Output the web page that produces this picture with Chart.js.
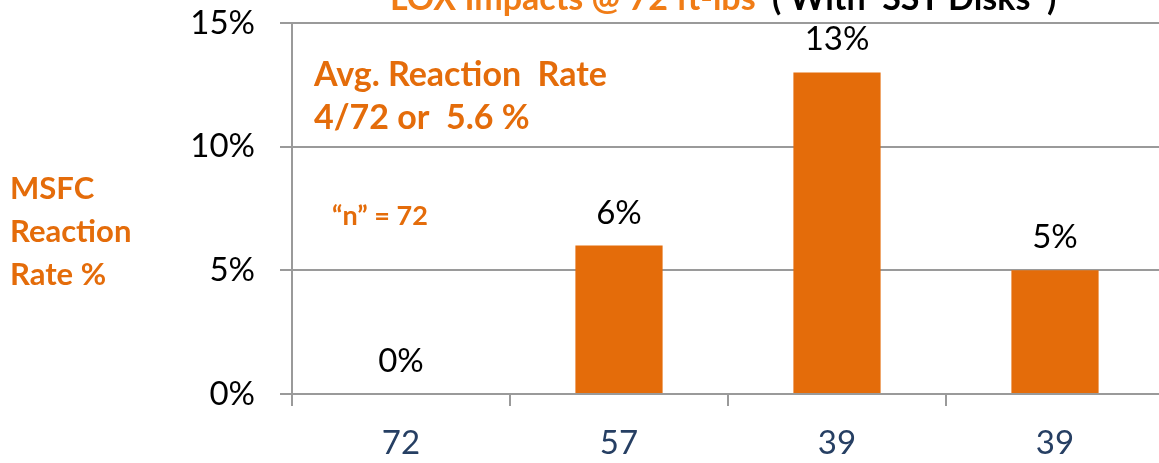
<!DOCTYPE html>
<html>
<head>
<meta charset="utf-8">
<script src="https://cdn.jsdelivr.net/npm/chart.js@4/dist/chart.umd.min.js"></script>
<style>
  html, body { margin: 0; padding: 0; background: #fff; overflow: hidden; }
  #contenedor { width: 1172px; height: 463px; }
</style>
</head>
<body>
<div id="contenedor"><canvas id="reaccionChart" width="1172" height="463"></canvas></div>
<script>
const categorias = ['72', '57', '39', '39'];
const tasaReaccion = [0, 6, 13, 5];
const ticksY = [0, 5, 10, 15];
const tituloGrafica = ['LOX Impacts @ 72 ft-lbs', '( With  SST Disks  )'];
const tituloEjeY = ['MSFC', 'Reaction', 'Rate %'];
const notaPromedio = ['Avg. Reaction  Rate', '4/72 or  5.6 %'];
const notaMuestra = '\u201Cn\u201D = 72';

(() => {
    const naranja = '#E46C0A';
    const gris = '#9A9A9A';
    const azulTicks = '#263F63';
    const fuente = 'Lato, "Open Sans", sans-serif';

    // etiquetas de valor encima de cada barra
    const etiquetasValor = {
        id: 'etiquetasValor',
        afterDatasetsDraw(chart) {
            const ctx = chart.ctx;
            const meta = chart.getDatasetMeta(0);
            ctx.save();
            ctx.font = `33px ${fuente}`;
            ctx.fillStyle = '#000';
            ctx.textAlign = 'center';
            ctx.textBaseline = 'alphabetic';
            meta.data.forEach((barra, i) => {
                ctx.fillText(tasaReaccion[i] + '%', barra.x, barra.y - 22);
            });
            ctx.restore();
        }
    };

    // titulo (cortado arriba), titulo del eje Y y notas
    const textosLibres = {
        id: 'textosLibres',
        afterDraw(chart) {
            const ctx = chart.ctx;
            ctx.save();
            ctx.textAlign = 'left';
            ctx.textBaseline = 'alphabetic';

            ctx.font = `bold 34px ${fuente}`;
            ctx.fillStyle = '#F07C16';
            ctx.fillText(tituloGrafica[0], 390, 10);
            ctx.fillStyle = '#000';
            ctx.fillText(tituloGrafica[1], 772, 10);

            ctx.fillStyle = naranja;
            ctx.font = `bold 31px ${fuente}`;
            [199, 242, 285].forEach((y, i) => ctx.fillText(tituloEjeY[i], 10, y));

            ctx.font = `bold 34px ${fuente}`;
            ctx.fillText(notaPromedio[0], 314, 86);
            ctx.fillText(notaPromedio[1], 314, 129);

            ctx.font = `bold 27px ${fuente}`;
            ctx.fillText(notaMuestra, 332, 225);
            ctx.restore();
        }
    };

    const ctx = document.getElementById('reaccionChart');
    new Chart(ctx, {
        type: 'bar',
        data: {
            labels: categorias,
            datasets: [{
                label: 'MSFC Reaction Rate %',
                data: tasaReaccion,
                backgroundColor: naranja,
                borderWidth: 0,
                barPercentage: 0.4,
                categoryPercentage: 1.0
            }]
        },
        options: {
            responsive: false,
            animation: false,
            layout: { padding: { top: 23, right: 8, left: 0, bottom: 0 } },
            plugins: {
                legend: { display: false },
                tooltip: { enabled: false }
            },
            scales: {
                x: {
                    grid: { offset: true, drawOnChartArea: false, color: gris, lineWidth: 2, tickLength: 12 },
                    border: { color: gris, width: 2 },
                    ticks: { color: azulTicks, font: { family: fuente, size: 33 }, padding: 18 },
                    afterFit(scale) { scale.height = 69; }
                },
                y: {
                    min: 0,
                    max: 15,
                    afterBuildTicks(scale) {
                        scale.ticks = ticksY.map(v => ({ value: v }));
                    },
                    ticks: {
                        color: '#000',
                        font: { family: fuente, size: 33 },
                        padding: 25,
                        callback: v => v + '%'
                    },
                    grid: { color: gris, lineWidth: 2, tickLength: 12 },
                    border: { color: gris, width: 2 },
                    afterFit(scale) {
                        scale.width = 292;
                        // sin margen extra por la etiqueta de arriba
                        scale.paddingTop = 0;
                        scale.paddingBottom = 0;
                    }
                }
            }
        },
        plugins: [etiquetasValor, textosLibres]
    });
})();
</script>
</body>
</html>
